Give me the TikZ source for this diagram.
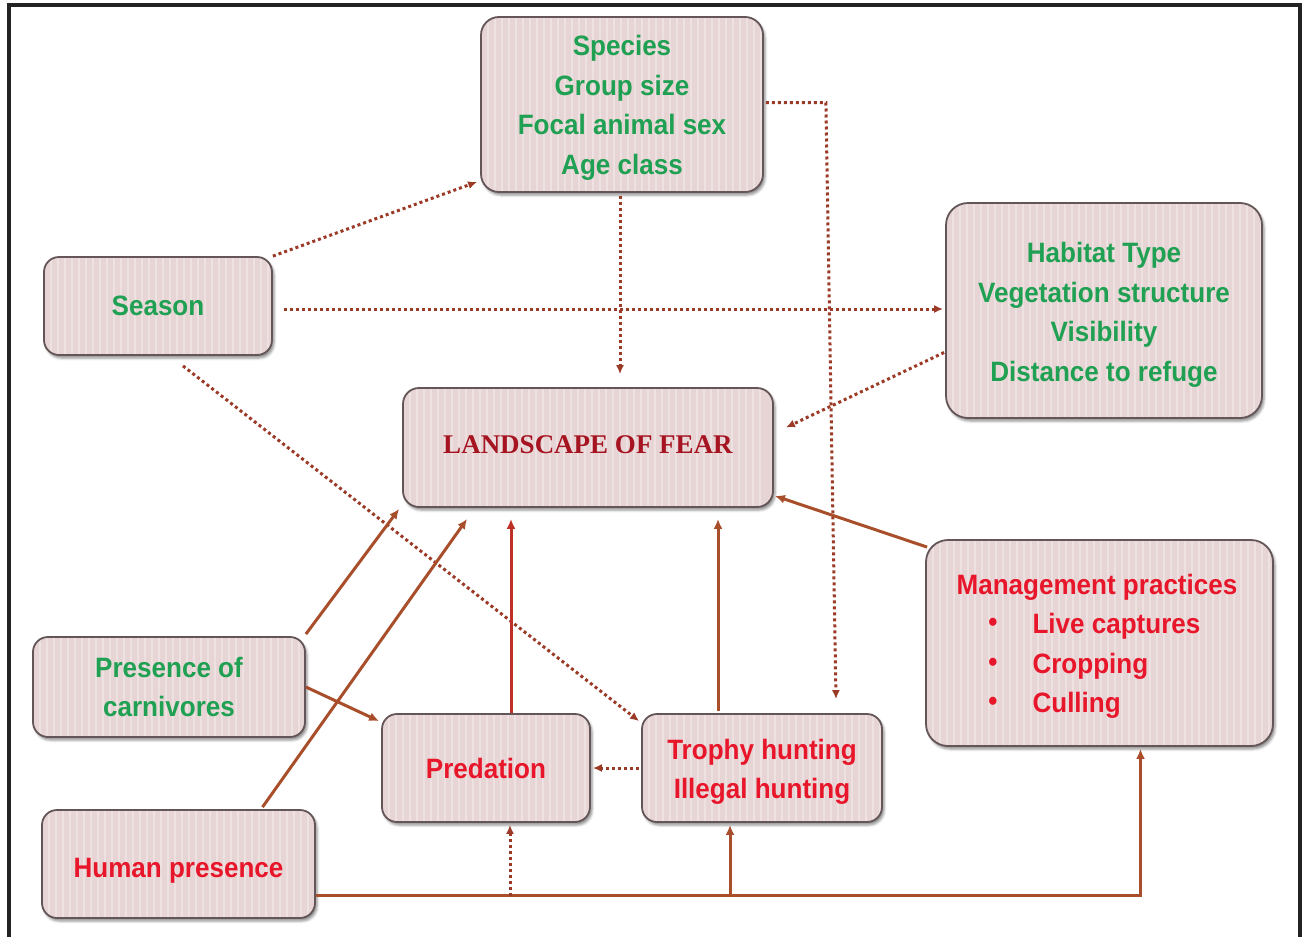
\documentclass[tikz,border=0pt]{standalone}
\usepackage{fontspec}
\setmainfont{Liberation Sans}
\newfontfamily\lbl[FakeStretch=0.93]{Liberation Sans}
\newfontfamily\serifl{Liberation Serif}
\usetikzlibrary{arrows.meta,calc,shadows.blur}
\definecolor{boxfill}{RGB}{231,213,213}
\definecolor{boxline}{RGB}{100,85,88}
\definecolor{grn}{RGB}{32,160,82}
\definecolor{rd}{RGB}{232,22,42}
\definecolor{dkrd}{RGB}{165,20,32}
\definecolor{conn}{RGB}{168,78,42}
\definecolor{dotc}{RGB}{155,58,38}
\definecolor{predc}{RGB}{190,48,38}
\definecolor{framec}{RGB}{35,35,35}
\newcommand{\up}[1]{\rule{0pt}{#1}}
\begin{document}
\begin{tikzpicture}[x=1pt,y=-1pt,
  box/.style={draw=boxline, line width=1.8pt, fill=boxfill, rounded corners=#1, inner sep=0pt, align=center,
    blur shadow={shadow xshift=2pt,shadow yshift=-3pt,shadow blur radius=2.5pt,shadow opacity=45},
    path picture={\foreach \s in {0,7,...,360}{\draw[white,opacity=0.3,line width=2.5pt]
      ([xshift=\s pt]path picture bounding box.south west) -- ([xshift=\s pt]path picture bounding box.north west);}}},
  box/.default=18pt,
  gtext/.style={text=grn, font=\lbl\bfseries\fontsize{28}{39.5}\selectfont},
  rtext/.style={text=rd, font=\lbl\bfseries\fontsize{28}{39.5}\selectfont},
  ltext/.style={text=dkrd, font=\serifl\bfseries\fontsize{27}{32}\selectfont},
  dotarrow/.style={draw=dotc, line width=3pt, dash pattern=on 3pt off 3pt, -{Latex[length=9pt,width=8pt]}},
  solarrow/.style={draw=conn, line width=3pt, -{Latex[length=10pt,width=9pt]}}
]
\useasboundingbox (0,0) rectangle (1302,937);
\draw[framec, line width=3.5pt] (9,937) -- (9,5) -- (1300,5) -- (1300,937);

% boxes
\node[box, gtext, minimum width=282pt, minimum height=175pt] (top) at (622,104.5) {\up{27pt}Species\\Group size\\Focal animal sex\\Age class};
\node[box=15pt, gtext, minimum width=228pt, minimum height=98pt] (season) at (158,306) {Season};
\node[box=22pt, gtext, minimum width=316pt, minimum height=215pt] (habitat) at (1104,310.5) {\up{29pt}Habitat Type\\Vegetation structure\\Visibility\\Distance to refuge};
\node[box=16pt, ltext, minimum width=370pt, minimum height=119pt] (land) at (588,447.5) {\rule[-6pt]{0pt}{6pt}LANDSCAPE OF FEAR};
\node[box=22pt, minimum width=347pt, minimum height=206pt] (mgmt) at (1099.5,643) {};
\node[box=15pt, gtext, minimum width=272pt, minimum height=100pt] (carn) at (169,687) {Presence of\\carnivores};
\node[box=15pt, rtext, minimum width=208pt, minimum height=108pt] (pred) at (486,768) {Predation};
\node[box=15pt, rtext, minimum width=240pt, minimum height=108pt] (trophy) at (762,768) {\up{28pt}Trophy hunting\\Illegal hunting};
\node[box=15pt, rtext, minimum width=273pt, minimum height=108pt] (human) at (178.5,864) {\up{32pt}Human presence};

% management text
\node[rtext] (mh) at (1097,587) {Management practices};
\node[rtext, anchor=west, text height=20pt, text depth=6pt] (m1) at (1029,626) {Live captures};
\node[rtext, anchor=west, text height=20pt, text depth=6pt] (m2) at (1029,666) {Cropping};
\node[rtext, anchor=west, text height=20pt, text depth=6pt] (m3) at (1029,705) {Culling};
\node[rtext] (b1) at (993,625) {•};
\node[rtext] (b2) at (993,665) {•};
\node[rtext] (b3) at (993,704) {•};

% dotted connectors
\draw[dotarrow] (season.north east) -- ($(top.south west)+(-3,-11)$);
\draw[dotarrow] ($(season.east)+(11,3)$) -- ($(habitat.west)+(-2,-1.5)$);
\draw[dotarrow] ($(season.south)+(25,10)$) -- ($(trophy.north west)+(-2,8)$);
\draw[dotarrow] ($(top.south)+(-2,3)$) -- ($(land.north)+(32,-13)$);
\draw[dotarrow] ($(top.east)+(2,-2)$) -- ($(top.east)+(62,-2)$) -- ($(trophy.north)+(74,-14)$);
\draw[dotarrow] ($(habitat.west)+(-1,42)$) -- ($(land.east)+(12,-20)$);
\draw[dotarrow] ($(trophy.west)+(-2,0)$) -- ($(pred.east)+(2,0)$);

% solid connectors
\draw[solarrow] ($(carn.north east)+(0,-2)$) -- ($(land.south west)+(-3,1)$);
\draw[solarrow] ($(human.north)+(84,-2)$) -- ($(land.south west)+(65,11)$);
\draw[solarrow, draw=predc] ($(pred.north)+(25,0)$) -- ($(land.south)+(-77,11)$);
\draw[solarrow] ($(trophy.north)+(-44,-2)$) -- ($(land.south)+(130,11)$);
\draw[solarrow] ($(mgmt.north west)+(2,8)$) -- ($(land.south east)+(1,-12)$);
\draw[solarrow] (carn.east) -- ($(pred.north west)+(-2,8)$);

% human presence line
\coordinate (hl) at ($(human.south east)+(0,-23)$);
\coordinate (hc) at ($(mgmt.south)+(41,149)$);
\draw[solarrow] (hl) -- (hc) -- ($(mgmt.south)+(41,2)$);
\draw[solarrow] ($(trophy.south)+(-32,73)$) -- ($(trophy.south)+(-32,2)$);
\draw[dotarrow] ($(pred.south)+(24,73)$) -- ($(pred.south)+(24,2)$);
\end{tikzpicture}
\end{document}
